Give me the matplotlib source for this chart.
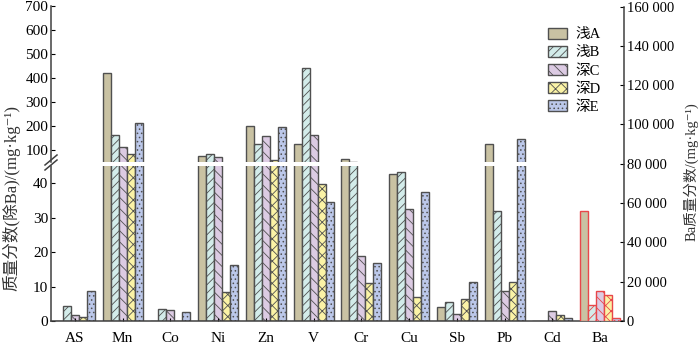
import numpy as np
import matplotlib
matplotlib.use("Agg")
import matplotlib.pyplot as plt
from matplotlib.lines import Line2D
from matplotlib.ticker import FuncFormatter

plt.rcParams['font.family'] = ['Liberation Serif', 'Noto Sans CJK SC', 'DejaVu Sans']
plt.rcParams['hatch.linewidth'] = 0.6

elements = ["AS", "Mn", "Co", "Ni", "Zn", "V", "Cr", "Cu", "Sb", "Pb", "Cd", "Ba"]
series = ["浅A", "浅B", "深C", "深D", "深E"]

# mg/kg, left axis (Ba is plotted on the right axis)
val_A = [0, 422, 0, 72, 199, 123, 61, 42.7, 4.1, 123, 0]
val_B = [4.4, 160, 3.5, 82, 125, 442, 47, 43.2, 5.5, 31.9, 0]
val_C = [1.8, 111, 3.1, 69, 157, 160, 19, 32.6, 1.9, 8.7, 3.0]
val_D = [1.2, 82, 0, 8.3, 56, 39.8, 11, 7.1, 6.4, 11.3, 1.6]
val_E = [8.8, 213, 2.7, 16.3, 193, 34.7, 16.9, 37.4, 11.3, 146, 0.8]
# Ba, right axis
ba_vals = [56000, 8000, 15100, 13400, 1400]

colors = ["#c9c2a3", "#d3ecea", "#dccbe3", "#fbf3a6", "#bcc8ea"]
hatches = [None, "////", "\\\\\\", "xxx", "...."]
edge = "#505050"
ba_edge = "#e8474a"

W, H = 700, 354
fig = plt.figure(figsize=(W / 100, H / 100), dpi=100)
left = 51 / W
width = (624 - 51) / W
ax_top = fig.add_axes([left, 1 - 161.5 / H, width, (161.5 - 6) / H])
ax_bot = fig.add_axes([left, 1 - 321 / H, width, (321 - 166.2) / H])
ax_r = fig.add_axes([left, 1 - 321 / H, width, (321 - 6.6) / H])
ax_r.patch.set_visible(False)

bw = 0.168
x = np.arange(len(elements))
data = [val_A, val_B, val_C, val_D, val_E]
handles = []
for j, vals in enumerate(data):
    xs = x[:11] + (j - 2) * bw
    for ax in (ax_top, ax_bot):
        b = ax.bar(xs, vals, bw, color=colors[j], edgecolor=edge,
                   hatch=hatches[j], linewidth=1.0)
    handles.append(b)
    ax_r.bar(11 + (j - 2) * bw, ba_vals[j], bw, color=colors[j],
             edgecolor=ba_edge, hatch=hatches[j], linewidth=1.0)

for ax in (ax_top, ax_bot, ax_r):
    ax.set_xlim(-0.5, 11.5)
    for s in ax.spines.values():
        s.set_color("#404040")
        s.set_linewidth(1.1)

ax_top.set_ylim(50, 700)
ax_top.set_yticks(np.arange(100, 701, 100))
ax_top.spines[["top", "right", "bottom"]].set_visible(False)
ax_top.set_xticks([])
ax_top.tick_params(axis="y", direction="in", length=3, labelsize=11, pad=2)

ax_bot.set_ylim(0, 45)
ax_bot.set_yticks(np.arange(0, 41, 10))
ax_bot.spines[["top", "right"]].set_visible(False)
ax_bot.set_xticks(x)
ax_bot.set_xticklabels(elements)
ax_bot.tick_params(axis="y", direction="in", length=3, labelsize=11, pad=2)
ax_bot.tick_params(axis="x", direction="in", length=2, labelsize=11, pad=8)

ax_r.set_ylim(0, 160000)
ax_r.set_yticks(np.arange(0, 160001, 20000))
ax_r.yaxis.set_major_formatter(FuncFormatter(lambda v, p: f"{int(v):,}".replace(",", " ")))
ax_r.yaxis.tick_right()
ax_r.spines[["top", "left", "bottom"]].set_visible(False)
ax_r.set_xticks([])
ax_r.tick_params(axis="y", direction="in", length=3, labelsize=10.5, pad=2)

# break marks on the left axis
for dy in (0, 5):
    fig.add_artist(Line2D([45 / W, 57 / W], [1 - (170 - dy) / H, 1 - (160 - dy) / H],
                          color="#404040", lw=1.1))

fig.text(11 / W, 1 - 198 / H, "质量分数(除Ba)/(mg·kg⁻¹)", rotation=90,
         ha="center", va="center", fontsize=12, color="#333333")
fig.text(691 / W, 1 - 172 / H, "Ba质量分数/(mg·kg⁻¹)", rotation=90,
         ha="center", va="center", fontsize=10.5, color="#333333")

fig.legend(handles, series, loc="upper left", bbox_to_anchor=(542 / W, 1 - 22 / H),
           frameon=False, fontsize=10.5, handlelength=1.3, handleheight=0.8,
           labelspacing=0.3, handletextpad=0.6, borderaxespad=0)

fig.savefig("out.png", dpi=100)
